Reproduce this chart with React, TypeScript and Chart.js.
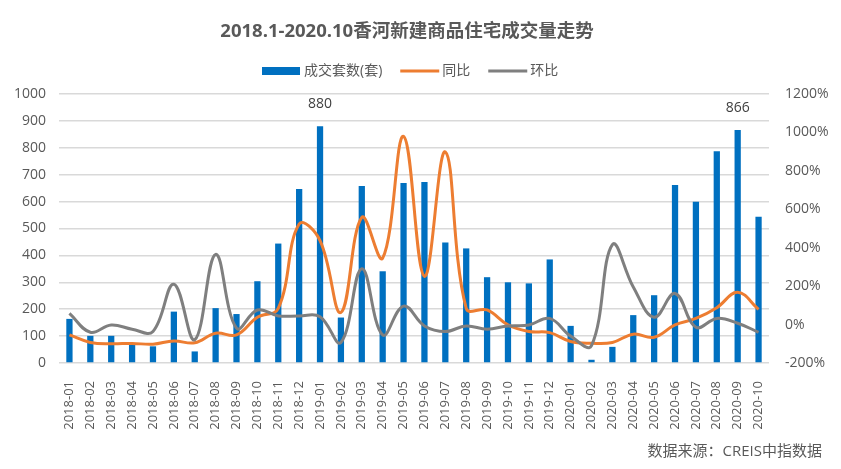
import React, { useEffect, useRef } from "react";
import { Chart, registerables } from "chart.js";

Chart.register(...registerables);

const months = [
  "2018-01","2018-02","2018-03","2018-04","2018-05","2018-06","2018-07","2018-08","2018-09","2018-10","2018-11","2018-12",
  "2019-01","2019-02","2019-03","2019-04","2019-05","2019-06","2019-07","2019-08","2019-09","2019-10","2019-11","2019-12",
  "2020-01","2020-02","2020-03","2020-04","2020-05","2020-06","2020-07","2020-08","2020-09","2020-10",
];
const deals = [
  164, 101, 101, 72, 62, 191, 43, 204, 182, 304, 444, 647,
  880, 169, 658, 341, 669, 673, 448, 426, 319, 300, 296, 385,
  138, 12, 60, 178, 252, 662, 599, 787, 866, 544,
];
const yoy = [
  -54, -93, -100, -98, -102, -85, -95, -45, -54, 38, 84, 523,
  437, 63, 558, 346, 980, 251, 899, 84, 76, -2, -36, -42,
  -88, -97, -93, -50, -66, -2, 32, 88, 168, 79,
];
const mom = [
  58, -40, -2, -24, -36, 210, -79, 365, -19, 76, 45, 45,
  41, -93, 291, -54, 96, -7, -36, -7, -24, -7, -2, 32,
  -60, -110, 416, 196, 38, 162, -14, 32, 7, -40,
];
const labeledMonths = ["2019-01", "2020-09"];
const leftTicks = [0, 1000, 100];
const rightTicks = [-200, 1200, 200];

const TITLE = "2018.1-2020.10香河新建商品住宅成交量走势";
const SOURCE = "数据来源：CREIS中指数据";
const FONT = '"Open Sans", "Noto Sans CJK SC", sans-serif';
const TEXT = "#595959";

export default function App() {
  const ref = useRef<HTMLCanvasElement | null>(null);

  useEffect(() => {
    document.body.style.margin = "0";
    const canvas = ref.current;
    if (!canvas) return;

    const extras = {
      id: "extras",
      afterDatasetsDraw(chart: any) {
        const ctx = chart.ctx;
        const meta = chart.getDatasetMeta(0);
        ctx.save();
        ctx.font = `14px ${FONT}`;
        ctx.fillStyle = "#404040";
        ctx.textAlign = "center";
        ctx.textBaseline = "middle";
        months.forEach((m, i) => {
          if (labeledMonths.includes(m)) {
            const el = meta.data[i];
            ctx.fillText(String(deals[i]), el.x, el.y - 22);
          }
        });
        ctx.restore();
      },
      afterDraw(chart: any) {
        const ctx = chart.ctx;
        ctx.save();
        // title
        ctx.font = `bold 18.5px ${FONT}`;
        ctx.fillStyle = TEXT;
        ctx.textAlign = "center";
        ctx.textBaseline = "middle";
        ctx.fillText(TITLE, 407, 32);
        // legend
        ctx.font = `14px ${FONT}`;
        ctx.textAlign = "left";
        const ly = 71;
        const items = chart.data.datasets.map((ds: any) => ({
          label: ds.label,
          color: ds.type === "line" ? ds.borderColor : ds.backgroundColor,
          isLine: ds.type === "line",
        }));
        let x = 262;
        items.forEach((it: any) => {
          if (it.isLine) {
            ctx.strokeStyle = it.color;
            ctx.lineWidth = 3;
            ctx.beginPath();
            ctx.moveTo(x, ly);
            ctx.lineTo(x + 39, ly);
            ctx.stroke();
          } else {
            ctx.fillStyle = it.color;
            ctx.fillRect(x, ly - 4, 38, 8);
          }
          ctx.fillStyle = TEXT;
          const tx = x + 42;
          ctx.fillText(it.label, tx, ly);
          x = tx + ctx.measureText(it.label).width + 18;
        });
        // source
        ctx.font = `15px ${FONT}`;
        ctx.textAlign = "right";
        ctx.fillText(SOURCE, 822, 452);
        ctx.restore();
      },
    };

    const chart = new Chart(canvas, {
      type: "bar",
      data: {
        labels: months,
        datasets: [
          {
            type: "bar",
            label: "成交套数(套)",
            data: deals,
            backgroundColor: "#0070C0",
            yAxisID: "y",
            barPercentage: 0.3,
            categoryPercentage: 1,
            order: 3,
          },
          {
            type: "line",
            label: "同比",
            data: yoy,
            borderColor: "#ED7D31",
            backgroundColor: "#ED7D31",
            borderWidth: 3,
            pointRadius: 0,
            tension: 0.4,
            yAxisID: "y1",
            order: 2,
          },
          {
            type: "line",
            label: "环比",
            data: mom,
            borderColor: "#7F7F7F",
            backgroundColor: "#7F7F7F",
            borderWidth: 3,
            pointRadius: 0,
            tension: 0.4,
            yAxisID: "y1",
            order: 1,
          },
        ] as any,
      },
      options: {
        responsive: false,
        animation: false,
        layout: { padding: { left: 0, right: 0, top: 94, bottom: 0 } },
        plugins: {
          tooltip: { enabled: false },
          title: { display: false },
          legend: { display: false },
        },
        scales: {
          x: {
            offset: true,
            grid: { display: false },
            border: { display: false },
            afterFit: (s: any) => { s.height = 106; },
            ticks: {
              autoSkip: false,
              minRotation: 90,
              maxRotation: 90,
              color: TEXT,
              font: { family: FONT, size: 13 },
              padding: 10,
            },
          },
          y: {
            position: "left",
            min: leftTicks[0],
            max: leftTicks[1],
            afterFit: (s: any) => { s.width = 59; },
            ticks: {
              stepSize: leftTicks[2],
              color: TEXT,
              font: { family: FONT, size: 14 },
              padding: 13,
              callback: (v: any) => String(v),
            },
            grid: { color: "#D9D9D9", lineWidth: 1.5, drawTicks: false },
            border: { display: false },
          },
          y1: {
            position: "right",
            min: rightTicks[0],
            max: rightTicks[1],
            afterFit: (s: any) => { s.width = 72; },
            ticks: {
              stepSize: rightTicks[2],
              color: TEXT,
              font: { family: FONT, size: 14 },
              padding: 16,
              callback: (v: any) => `${v}%`,
            },
            grid: { display: false, drawTicks: false },
            border: { display: false },
          },
        },
      },
      plugins: [extras],
    } as any);

    return () => chart.destroy();
  }, []);

  return <canvas ref={ref} width={841} height={469} style={{ display: "block" }} />;
}
